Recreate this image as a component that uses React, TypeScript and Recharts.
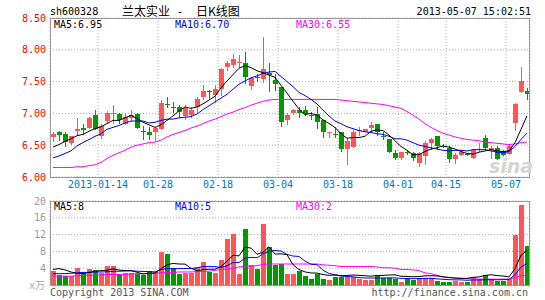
import { ComposedChart, Bar, Line, XAxis, YAxis, CartesianGrid } from 'recharts';

// daily candles, one per trading-day slot (80 slots)
const opens = [
  6.62, 6.70, 6.68, 6.53, 6.73, 6.77, 6.77, 6.97, 6.64, 6.87,
  6.98, 6.99, 6.84, 6.94, 6.99, 6.73, 6.70, 6.70, 6.76, 7.15,
  7.10, 7.10, 6.96, 6.98, 7.10, 7.26, 7.35, 7.29, 7.39, 7.72,
  7.76, 7.80, 7.80, 7.43, 7.58, 7.55, 7.63, 7.52, 7.42, 6.90,
  7.00, 7.05, 7.05, 6.98, 6.99, 6.89, 6.69, 6.68, 6.70, 6.44,
  6.47, 6.72, 6.71, 6.77, 6.83, 6.65, 6.59, 6.38, 6.30, 6.39,
  6.38, 6.23, 6.32, 6.53, 6.64, 6.49, 6.45, 6.28, 6.35, 6.36,
  6.30, 6.42, 6.61, 6.43, 6.46, 6.40, 6.35, 6.85, 7.33, 7.36,
];
const highs = [
  6.70, 6.73, 6.70, 6.65, 6.93, 6.84, 6.94, 7.05, 6.84, 7.03,
  7.13, 7.00, 6.99, 7.05, 7.00, 6.80, 6.78, 6.79, 7.21, 7.26,
  7.18, 7.13, 7.13, 7.10, 7.26, 7.44, 7.37, 7.44, 7.71, 7.82,
  7.94, 7.92, 7.97, 7.58, 7.62, 8.20, 7.80, 7.62, 7.42, 7.00,
  7.07, 7.10, 7.12, 7.02, 7.10, 6.89, 6.71, 6.79, 6.70, 6.61,
  6.74, 6.78, 6.76, 6.87, 6.84, 6.70, 6.59, 6.43, 6.40, 6.42,
  6.40, 6.39, 6.56, 6.61, 6.65, 6.52, 6.48, 6.37, 6.43, 6.37,
  6.44, 6.54, 6.66, 6.48, 6.48, 6.43, 6.51, 7.16, 7.73, 7.40,
];
const lows = [
  6.55, 6.56, 6.47, 6.51, 6.64, 6.66, 6.75, 6.74, 6.59, 6.84,
  6.84, 6.84, 6.81, 6.86, 6.75, 6.58, 6.58, 6.56, 6.74, 7.09,
  7.01, 6.93, 6.90, 6.92, 7.00, 7.21, 7.22, 7.16, 7.28, 7.66,
  7.72, 7.72, 7.46, 7.37, 7.50, 7.48, 7.34, 7.36, 6.78, 6.82,
  6.98, 6.93, 6.96, 6.90, 6.75, 6.61, 6.62, 6.61, 6.39, 6.19,
  6.45, 6.64, 6.70, 6.71, 6.64, 6.58, 6.38, 6.27, 6.27, 6.35,
  6.25, 6.16, 6.19, 6.43, 6.43, 6.46, 6.22, 6.21, 6.33, 6.33,
  6.29, 6.40, 6.43, 6.28, 6.27, 6.33, 6.34, 6.72, 7.32, 7.21,
];
const closes = [
  6.67, 6.65, 6.55, 6.64, 6.76, 6.74, 6.92, 6.75, 6.80, 7.00,
  7.00, 6.90, 6.95, 6.98, 6.77, 6.72, 6.66, 6.77, 7.17, 7.13,
  7.09, 7.02, 7.08, 7.06, 7.23, 7.35, 7.33, 7.38, 7.70, 7.79,
  7.85, 7.81, 7.58, 7.55, 7.56, 7.70, 7.60, 7.45, 6.87, 6.98,
  7.05, 7.00, 6.99, 6.96, 6.87, 6.70, 6.70, 6.67, 6.44, 6.56,
  6.71, 6.74, 6.75, 6.82, 6.70, 6.63, 6.39, 6.30, 6.40, 6.37,
  6.30, 6.38, 6.53, 6.60, 6.48, 6.47, 6.28, 6.35, 6.40, 6.34,
  6.43, 6.44, 6.46, 6.46, 6.28, 6.35, 6.48, 7.15, 7.51, 7.32,
];
const priceMa5 = [
  6.47, 6.51, 6.56, 6.60, 6.65, 6.67, 6.72, 6.76, 6.79, 6.84,
  6.89, 6.89, 6.93, 6.97, 6.92, 6.86, 6.82, 6.78, 6.82, 6.89,
  6.96, 7.04, 7.10, 7.08, 7.10, 7.15, 7.21, 7.27, 7.40, 7.51,
  7.61, 7.71, 7.75, 7.72, 7.67, 7.64, 7.60, 7.57, 7.44, 7.32,
  7.19, 7.07, 6.98, 7.00, 6.97, 6.90, 6.84, 6.78, 6.68, 6.61,
  6.62, 6.62, 6.64, 6.72, 6.74, 6.73, 6.66, 6.57, 6.48, 6.42,
  6.35, 6.35, 6.40, 6.44, 6.46, 6.49, 6.47, 6.44, 6.40, 6.37,
  6.36, 6.39, 6.41, 6.43, 6.41, 6.40, 6.41, 6.54, 6.75, 6.96,
];
const priceMa10 = [
  6.30, 6.33, 6.37, 6.41, 6.49, 6.54, 6.59, 6.64, 6.68, 6.75,
  6.78, 6.81, 6.85, 6.88, 6.88, 6.88, 6.85, 6.86, 6.89, 6.91,
  6.91, 6.93, 6.94, 6.95, 6.99, 7.06, 7.12, 7.18, 7.24, 7.30,
  7.38, 7.46, 7.51, 7.56, 7.59, 7.63, 7.65, 7.66, 7.58, 7.50,
  7.42, 7.33, 7.28, 7.22, 7.15, 7.05, 6.96, 6.88, 6.84, 6.79,
  6.76, 6.73, 6.71, 6.70, 6.68, 6.67, 6.64, 6.60, 6.60, 6.58,
  6.54, 6.50, 6.48, 6.46, 6.44, 6.42, 6.41, 6.42, 6.42, 6.41,
  6.43, 6.43, 6.43, 6.41, 6.39, 6.38, 6.40, 6.48, 6.59, 6.69,
];
const priceMa30 = [
  6.15, 6.15, 6.15, 6.15, 6.16, 6.16, 6.18, 6.19, 6.23, 6.29,
  6.34, 6.38, 6.42, 6.47, 6.50, 6.52, 6.54, 6.55, 6.58, 6.63,
  6.67, 6.70, 6.73, 6.77, 6.80, 6.84, 6.88, 6.91, 6.95, 6.99,
  7.02, 7.06, 7.09, 7.13, 7.16, 7.19, 7.21, 7.22, 7.22, 7.22,
  7.22, 7.22, 7.22, 7.22, 7.22, 7.22, 7.22, 7.22, 7.21, 7.20,
  7.19, 7.18, 7.17, 7.16, 7.15, 7.14, 7.12, 7.10, 7.08, 7.03,
  6.97, 6.91, 6.84, 6.78, 6.73, 6.69, 6.66, 6.63, 6.61, 6.59,
  6.58, 6.57, 6.55, 6.54, 6.53, 6.52, 6.51, 6.52, 6.54, 6.55,
];

// volume in 万
const volumes = [
  3.3, 2.4, 2.1, 2.1, 4.0, 2.9, 3.8, 3.5, 2.9, 4.5,
  4.5, 2.4, 2.8, 2.8, 2.7, 2.4, 3.3, 3.0, 7.9, 7.4,
  4.1, 2.6, 2.9, 2.9, 4.4, 5.5, 3.1, 2.9, 6.0, 11.0,
  12.2, 2.6, 13.4, 4.7, 3.7, 14.6, 9.1, 4.7, 5.0, 2.7,
  2.7, 3.3, 2.2, 1.4, 2.6, 1.5, 1.3, 1.8, 1.8, 1.8,
  1.8, 1.4, 1.3, 1.3, 2.5, 1.7, 1.7, 1.5, 0.8, 1.5,
  1.3, 1.7, 1.7, 1.7, 1.0, 0.7, 0.8, 1.0, 0.7, 0.7,
  2.0, 1.5, 2.5, 1.5, 1.0, 1.0, 1.4, 11.9, 19.1, 9.3,
];
const volMa5 = [
  3.7, 3.9, 3.6, 3.1, 2.78, 2.70, 2.98, 3.26, 3.42, 3.52,
  3.84, 3.56, 3.42, 3.40, 3.04, 2.62, 2.80, 2.84, 3.86, 4.80,
  5.14, 5.00, 4.98, 3.98, 3.38, 3.66, 3.76, 3.76, 4.38, 5.70,
  7.04, 6.94, 9.04, 8.78, 7.32, 7.80, 9.10, 7.36, 7.42, 7.22,
  4.84, 3.68, 3.12, 2.86, 2.84, 2.48, 2.30, 2.38, 2.22, 2.28,
  2.38, 2.30, 2.20, 2.10, 2.24, 2.30, 2.38, 2.42, 2.08, 2.04,
  1.96, 2.00, 2.18, 2.22, 2.16, 1.96, 1.78, 1.64, 1.58, 1.58,
  1.82, 1.92, 2.28, 2.44, 2.24, 2.14, 1.92, 3.9, 7.1, 8.2,
];
const volMa10 = [
  2.7, 2.7, 2.7, 2.8, 2.9, 3.0, 3.0, 3.1, 3.1, 3.15,
  3.27, 3.27, 3.34, 3.41, 3.28, 3.23, 3.18, 3.13, 3.63, 3.92,
  3.88, 3.90, 3.91, 3.92, 4.09, 4.40, 4.38, 4.37, 4.18, 4.54,
  5.35, 5.35, 6.40, 6.58, 6.51, 7.42, 8.02, 8.20, 8.10, 7.27,
  6.9, 6.8, 5.7, 4.94, 4.83, 3.52, 2.74, 2.45, 2.13, 2.04,
  1.95, 1.76, 1.67, 1.66, 1.65, 1.67, 1.71, 1.68, 1.58, 1.55,
  1.50, 1.53, 1.57, 1.61, 1.46, 1.36, 1.27, 1.22, 1.21, 1.13,
  1.20, 1.18, 1.26, 1.24, 1.24, 1.27, 1.33, 2.42, 4.26, 5.12,
];
const volMa30 = [
  2.1, 2.1, 2.1, 2.1, 2.2, 2.3, 2.3, 2.3, 2.4, 2.5,
  2.5, 2.5, 2.5, 2.6, 2.7, 2.7, 2.7, 2.8, 2.9, 3.0,
  3.0, 3.1, 3.1, 3.1, 3.2, 3.2, 3.3, 3.5, 3.7, 3.8,
  3.9, 4.3, 4.5, 4.5, 4.6, 4.9, 5.0, 5.0, 5.0, 5.0,
  5.0, 5.0, 5.0, 5.0, 5.0, 4.8, 4.7, 4.6, 4.4, 4.4,
  4.4, 4.4, 4.4, 4.4, 4.3, 4.1, 4.1, 4.0, 3.7, 3.7,
  3.6, 3.4, 2.9, 2.7, 2.3, 1.9, 1.8, 1.7, 1.6, 1.5,
  1.5, 1.4, 1.4, 1.4, 1.4, 1.4, 1.4, 1.8, 2.2, 2.4,
];

const tickSlots = [8, 18, 28, 38, 48, 58, 66, 76];
const tickLabels = ['2013-01-14', '01-28', '02-18', '03-04', '03-18', '04-01', '04-15', '05-07'];
const priceTicks = [6, 6.5, 7, 7.5, 8, 8.5];
const volumeTicks = [0, 4, 8, 12, 16, 20];

const RED = '#ff5555';
const GREEN = '#009900';
const MONO = 'DejaVu Sans Mono, monospace';

const rows = closes.map((close, i) => ({
  slot: i + 0.5,
  open: opens[i],
  high: highs[i],
  low: lows[i],
  close,
  range: [lows[i], highs[i]],
  volume: volumes[i],
  ma5: priceMa5[i],
  ma10: priceMa10[i],
  ma30: priceMa30[i],
  vma5: volMa5[i],
  vma10: volMa10[i],
  vma30: volMa30[i],
}));

function Candle(props: any) {
  const { x, y, height, payload } = props;
  if (x == null || y == null) return null;
  const top = Math.min(y, y + height);
  const h = Math.abs(height);
  const { open, close, high, low } = payload;
  const k = h / (high - low || 1);
  const yo = top + (high - open) * k;
  const yc = top + (high - close) * k;
  const color = close >= open ? RED : GREEN;
  const left = Math.round(x);
  const cx = left + 2.5;
  const bodyTop = Math.round(Math.min(yo, yc));
  const bodyH = Math.max(1, Math.round(Math.abs(yo - yc)));
  return (
    <g>
      <line x1={cx} x2={cx} y1={Math.round(top)} y2={Math.round(top + h)} stroke={color} strokeWidth={1} />
      <rect x={left} y={bodyTop} width={5} height={bodyH} fill={color} />
    </g>
  );
}

function VolumeBar(props: any) {
  const { x, y, height, payload } = props;
  if (x == null || y == null) return null;
  const color = payload.close >= payload.open ? RED : GREEN;
  const top = Math.round(y);
  const bottom = Math.round(y + height);
  return <rect x={Math.round(x)} y={top} width={5} height={Math.max(1, bottom - top)} fill={color} />;
}

const maLine = (key: string, color: string) => (
  <Line
    key={key}
    type="linear"
    dataKey={key}
    stroke={color}
    strokeWidth={1}
    dot={false}
    activeDot={false}
    isAnimationActive={false}
  />
);

const labelStyle = { fontFamily: MONO, fontSize: 10 };

export default function App() {
  return (
    <div style={{ position: 'absolute', left: 0, top: 0, width: 545, height: 300, background: '#fff' }}>
      <div style={{ position: 'absolute', left: 0, top: 0 }}>
        <ComposedChart width={545} height={190} data={rows} margin={{ top: 18, right: 15, bottom: 0, left: 0 }}>
          <CartesianGrid stroke="#aaa" strokeDasharray="1 2" />
          <XAxis
            dataKey="slot"
            type="number"
            domain={[0, 80]}
            ticks={tickSlots}
            interval={0}
            allowDataOverflow
            tickFormatter={(v: number) => tickLabels[tickSlots.indexOf(v)] ?? ''}
            axisLine={false}
            tickLine={false}
            tickSize={0}
            tickMargin={4}
            height={13}
            tick={{ ...labelStyle, fill: '#0077cc' }}
          />
          <YAxis
            type="number"
            domain={[6, 8.5]}
            ticks={priceTicks}
            interval={0}
            allowDataOverflow
            tickFormatter={(v: number) => v.toFixed(2)}
            axisLine={false}
            tickLine={false}
            tickSize={0}
            tickMargin={4}
            width={50}
            tick={{ ...labelStyle, fill: '#ff0000' }}
          />
          <Bar dataKey="range" barSize={5} shape={Candle} isAnimationActive={false} />
          {maLine('ma30', '#ff00ff')}
          {maLine('ma10', '#0000ff')}
          {maLine('ma5', '#000000')}
        </ComposedChart>
      </div>

      <div style={{ position: 'absolute', left: 0, top: 190 }}>
        <ComposedChart width={545} height={100} data={rows} margin={{ top: 11, right: 15, bottom: 5, left: 0 }}>
          <CartesianGrid stroke="#aaa" strokeDasharray="1 2" />
          <XAxis
            dataKey="slot"
            type="number"
            domain={[0, 80]}
            ticks={tickSlots}
            interval={0}
            allowDataOverflow
            tick={false}
            axisLine={false}
            tickLine={false}
            height={0}
          />
          <YAxis
            type="number"
            domain={[0, 20]}
            ticks={volumeTicks}
            interval={0}
            allowDataOverflow
            tickFormatter={(v: number) => (v === 0 ? '' : String(v))}
            axisLine={false}
            tickLine={false}
            tickSize={0}
            tickMargin={4}
            width={50}
            tick={{ ...labelStyle, fill: '#999' }}
          />
          <Bar dataKey="volume" barSize={5} shape={VolumeBar} isAnimationActive={false} />
          {maLine('vma30', '#ff00ff')}
          {maLine('vma10', '#0000ff')}
          {maLine('vma5', '#000000')}
        </ComposedChart>
      </div>

      <svg width={545} height={300} style={{ position: 'absolute', left: 0, top: 0, pointerEvents: 'none' }}>
        <rect x={50.5} y={18.5} width={479} height={159} fill="none" stroke="#999" />
        <rect x={50.5} y={201.5} width={479} height={84} fill="none" stroke="#999" />

        <text x={50} y={15} fontFamily={MONO} fontSize={10} fill="#000">sh600328</text>
        <text x={122} y={16} fontFamily="Noto Sans CJK SC" fontSize={12} fill="#000">兰太实业</text>
        <text x={178} y={16} fontFamily="Noto Sans CJK SC" fontSize={12} fill="#000">-</text>
        <text x={196} y={16} fontFamily="Noto Sans CJK SC" fontSize={12} fill="#000">日K线图</text>
        <text x={531} y={15} textAnchor="end" fontFamily={MONO} fontSize={10} fill="#000">2013-05-07 15:02:51</text>

        <rect x={52} y={20} width={52} height={10} fill="#fff" />
        <text x={54} y={28} fontFamily={MONO} fontSize={10} fill="#000">MA5:6.95</text>
        <rect x={173} y={20} width={58} height={10} fill="#fff" />
        <text x={175} y={28} fontFamily={MONO} fontSize={10} fill="#0000ff">MA10:6.70</text>
        <rect x={294} y={20} width={58} height={10} fill="#fff" />
        <text x={296} y={28} fontFamily={MONO} fontSize={10} fill="#ff00ff">MA30:6.55</text>

        <text x={489} y={173} fontFamily="DejaVu Sans" fontSize={19} fontStyle="italic" fontWeight="bold" fill="#d4d4d4">sina</text>

        <text x={54} y={210} fontFamily={MONO} fontSize={10} fill="#000">MA5:8</text>
        <text x={175} y={210} fontFamily={MONO} fontSize={10} fill="#0000ff">MA10:5</text>
        <text x={296} y={210} fontFamily={MONO} fontSize={10} fill="#ff00ff">MA30:2</text>

        <text x={29} y={289} fontFamily="DejaVu Sans Mono, Noto Sans CJK SC" fontSize={10} fill="#aaa">x万</text>
        <text x={50} y={296} fontFamily={MONO} fontSize={10} fill="#555">Copyright 2013 SINA.COM</text>
        <text x={528} y={296} textAnchor="end" fontFamily={MONO} fontSize={10} fill="#555">http://finance.sina.com.cn</text>
      </svg>
    </div>
  );
}
